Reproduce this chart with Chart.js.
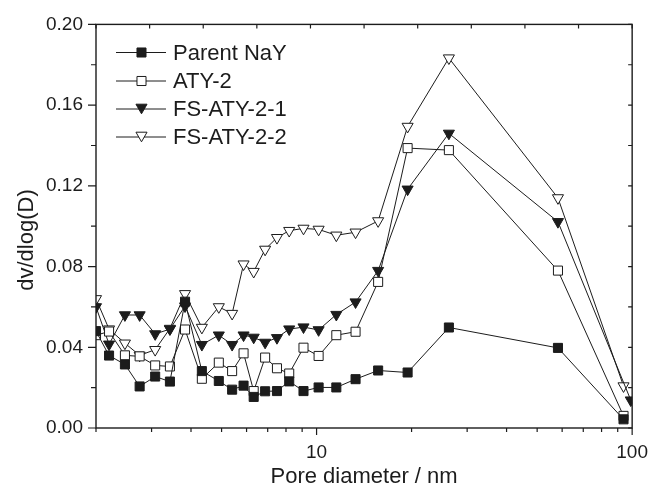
<!DOCTYPE html>
<html>
<head>
<meta charset="utf-8">
<script src="https://cdn.jsdelivr.net/npm/chart.js@4/dist/chart.umd.min.js"></script>
<style>
html,body{margin:0;padding:0;background:#fff;}
#wrap{width:661px;height:485px;}
</style>
</head>
<body>
<div id="wrap"><canvas id="c" width="661" height="485"></canvas></div>
<script>
// ---- data ----
const poreDiameter = [2.0, 2.2, 2.47, 2.75, 3.08, 3.43, 3.83, 4.33, 4.90, 5.40, 5.87, 6.32, 6.87, 7.49, 8.19, 9.09, 10.15, 11.55, 13.29, 15.67, 19.43, 26.26, 58.2, 93.9];
const poreDiameterFS1 = [2.0, 2.2, 2.47, 2.75, 3.08, 3.43, 3.83, 4.33, 4.90, 5.40, 5.87, 6.32, 6.87, 7.49, 8.19, 9.09, 10.15, 11.55, 13.29, 15.67, 19.43, 26.26, 58.2, 99.0];
const parentNaY = [0.048, 0.0359, 0.0315, 0.0206, 0.0255, 0.0230, 0.0626, 0.0282, 0.0233, 0.0190, 0.0210, 0.0154, 0.0182, 0.0183, 0.0231, 0.0183, 0.0201, 0.0201, 0.0242, 0.0285, 0.0275, 0.0498, 0.0397, 0.0043];
const aty2 = [0.046, 0.0478, 0.0360, 0.0355, 0.0310, 0.0305, 0.0488, 0.0244, 0.0324, 0.0282, 0.0370, 0.0183, 0.0349, 0.0296, 0.0270, 0.0398, 0.0357, 0.0460, 0.0477, 0.0724, 0.1387, 0.1377, 0.0780, 0.0060];
const fsAty21 = [0.060, 0.0415, 0.0560, 0.0560, 0.0466, 0.0490, 0.0604, 0.0413, 0.0460, 0.0413, 0.0460, 0.0449, 0.0424, 0.0447, 0.0490, 0.0500, 0.0486, 0.0562, 0.0624, 0.0780, 0.1183, 0.1460, 0.1022, 0.0138];
const fsAty22 = [0.064, 0.0490, 0.0420, 0.0360, 0.0388, 0.0493, 0.0665, 0.0498, 0.0600, 0.0567, 0.0812, 0.0775, 0.0885, 0.0943, 0.0978, 0.0989, 0.0984, 0.0955, 0.0970, 0.1026, 0.1494, 0.1833, 0.1140, 0.0208];
const seriesNames = ['Parent NaY', 'ATY-2', 'FS-ATY-2-1', 'FS-ATY-2-2'];
const xTickLabels = [10, 100];
const xMinorTicks = [2, 3, 4, 5, 6, 7, 8, 9, 20, 30, 40, 50, 60, 70, 80, 90];
const yTickLabels = [0, 0.04, 0.08, 0.12, 0.16, 0.20];
const yMinorTicks = [0.02, 0.06, 0.10, 0.14, 0.18];
const xTitle = 'Pore diameter / nm';
const yTitle = 'dv/dlog(D)';

// ---- styling ----
const FONT = '"Liberation Sans", Arial, Helvetica, sans-serif';
const INK = '#1c1c1c';
const MARK_R = 6.4;

const styles = [
  {pointStyle: 'rect', rotation: 0, fill: INK},
  {pointStyle: 'rect', rotation: 0, fill: '#ffffff'},
  {pointStyle: 'triangle', rotation: 180, fill: INK},
  {pointStyle: 'triangle', rotation: 180, fill: '#ffffff'}
];
const seriesX = [poreDiameter, poreDiameter, poreDiameterFS1, poreDiameter];
const seriesY = [parentNaY, aty2, fsAty21, fsAty22];

const datasets = seriesNames.map((name, k) => ({
  label: name,
  data: seriesX[k].map((x, i) => ({x: x, y: seriesY[k][i]})),
  borderColor: INK,
  borderWidth: 1,
  tension: 0,
  fill: false,
  clip: 0,
  pointStyle: styles[k].pointStyle,
  rotation: styles[k].rotation,
  pointRadius: MARK_R,
  pointHoverRadius: MARK_R,
  pointBackgroundColor: styles[k].fill,
  pointBorderColor: INK,
  pointBorderWidth: 1
}));

function drawMarker(ctx, style, fill, x, y, r) {
  ctx.beginPath();
  if (style === 'rect') {
    const s = r * Math.SQRT1_2;
    ctx.rect(x - s, y - s, 2 * s, 2 * s);
  } else {
    const yc = y - r / 4;
    ctx.moveTo(x, yc + r);
    ctx.lineTo(x - r * 0.866, yc - r / 2);
    ctx.lineTo(x + r * 0.866, yc - r / 2);
    ctx.closePath();
  }
  ctx.fillStyle = fill;
  ctx.fill();
  ctx.lineWidth = 1;
  ctx.strokeStyle = INK;
  ctx.stroke();
}

const framePlugin = {
  id: 'frame',
  afterDraw(chart) {
    const ctx = chart.ctx;
    const a = chart.chartArea;
    const xs = chart.scales.x, ys = chart.scales.y, xt = chart.scales.xTop;
    ctx.save();
    ctx.strokeStyle = INK;
    ctx.lineWidth = 1.4;
    ctx.strokeRect(a.left, a.top, a.right - a.left, a.bottom - a.top);
    ctx.lineWidth = 1.2;
    ctx.beginPath();
    // bottom ticks (outward)
    xTickLabels.forEach(v => { const p = xs.getPixelForValue(v); ctx.moveTo(p, a.bottom); ctx.lineTo(p, a.bottom + 7); });
    xMinorTicks.forEach(v => { const p = xs.getPixelForValue(v); ctx.moveTo(p, a.bottom); ctx.lineTo(p, a.bottom + 4); });
    // left ticks (outward)
    yTickLabels.forEach(v => { const p = ys.getPixelForValue(v); ctx.moveTo(a.left, p); ctx.lineTo(a.left - 8, p); });
    yMinorTicks.forEach(v => { const p = ys.getPixelForValue(v); ctx.moveTo(a.left, p); ctx.lineTo(a.left - 5, p); });
    // right ticks (inward)
    yTickLabels.concat(yMinorTicks).forEach(v => { const p = ys.getPixelForValue(v); ctx.moveTo(a.right, p); ctx.lineTo(a.right - 4, p); });
    // top ticks (inward)
    for (let k = 0; k <= 10; k++) { const p = xt.getPixelForValue(k); ctx.moveTo(p, a.top); ctx.lineTo(p, a.top + 4); }
    ctx.stroke();

    // axis titles
    ctx.fillStyle = INK;
    ctx.font = '22px ' + FONT;
    ctx.textAlign = 'center';
    ctx.textBaseline = 'alphabetic';
    ctx.fillText(xTitle, (a.left + a.right) / 2, 483);
    ctx.save();
    ctx.translate(33, 240);
    ctx.rotate(-Math.PI / 2);
    ctx.fillText(yTitle, 0, 0);
    ctx.restore();

    // legend inside plot
    const rows = [52.5, 81, 109, 137];
    ctx.font = '22px ' + FONT;
    ctx.textAlign = 'left';
    ctx.textBaseline = 'middle';
    seriesNames.forEach((name, k) => {
      const y = rows[k];
      ctx.beginPath();
      ctx.lineWidth = 1;
      ctx.strokeStyle = INK;
      ctx.moveTo(116, y); ctx.lineTo(166, y);
      ctx.stroke();
      drawMarker(ctx, styles[k].pointStyle, styles[k].fill, 141.5, y, MARK_R);
      ctx.fillStyle = INK;
      ctx.fillText(name, 173, y + 1);
    });
    ctx.restore();
  }
};

new Chart(document.getElementById('c'), {
  type: 'line',
  data: {datasets: datasets},
  options: {
    responsive: false,
    animation: false,
    devicePixelRatio: 1,
    layout: {padding: {left: 0, right: 19, top: 21, bottom: 0}},
    plugins: {legend: {display: false}, tooltip: {enabled: false}},
    events: [],
    scales: {
      x: {
        type: 'logarithmic', min: 2, max: 100, position: 'bottom',
        grid: {display: false, drawTicks: false},
        border: {display: false},
        afterBuildTicks: s => { s.ticks = xTickLabels.map(v => ({value: v, major: true})); },
        afterFit: s => { s.height = 57; },
        ticks: {autoSkip: false, maxRotation: 0, minRotation: 0, padding: 13, color: INK,
                font: {family: FONT, size: 19}, callback: v => String(v)}
      },
      xTop: {type: 'linear', min: 0, max: 10, display: false},
      y: {
        type: 'linear', min: 0, max: 0.2,
        grid: {display: false, drawTicks: false},
        border: {display: false},
        afterBuildTicks: s => { s.ticks = yTickLabels.map(v => ({value: v})); },
        afterFit: s => { s.width = 96; },
        ticks: {padding: 13, color: INK, font: {family: FONT, size: 19}, callback: v => v.toFixed(2)}
      }
    }
  },
  plugins: [framePlugin]
});
</script>
</body>
</html>
